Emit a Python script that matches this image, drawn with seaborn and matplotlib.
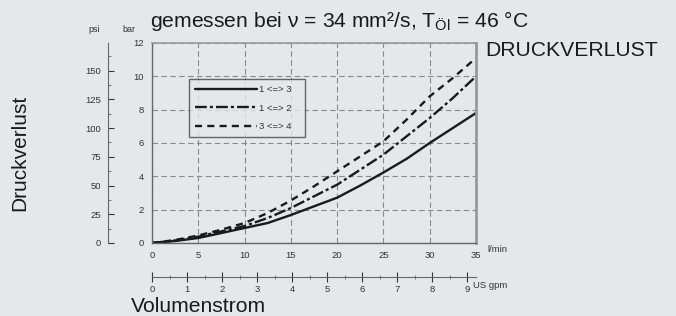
import matplotlib
matplotlib.use("Agg")
import matplotlib.pyplot as plt
import numpy as np
import pandas as pd
import seaborn as sns

# flow in l/min
flow = [0, 2.5, 5, 7.5, 10, 12.5, 15, 17.5, 20, 22.5, 25, 27.5, 30, 32.5, 35]
# pressure loss in bar
loss_1_3 = [0, 0.12, 0.3, 0.6, 0.9, 1.2, 1.68, 2.2, 2.72, 3.45, 4.23, 5.05, 6.0, 6.9, 7.8]
loss_1_2 = [0, 0.15, 0.38, 0.7, 1.02, 1.5, 2.1, 2.8, 3.5, 4.4, 5.3, 6.4, 7.5, 8.7, 10.0]
loss_3_4 = [0, 0.18, 0.45, 0.8, 1.2, 1.8, 2.55, 3.4, 4.3, 5.2, 6.1, 7.4, 8.8, 9.9, 11.1]
series_names = ["1 <=> 3", "1 <=> 2", "3 <=> 4"]

bar_ticks = [0, 2, 4, 6, 8, 10, 12]
lmin_ticks = [0, 5, 10, 15, 20, 25, 30, 35]
psi_ticks = [0, 25, 50, 75, 100, 125, 150]
gpm_ticks = [0, 1, 2, 3, 4, 5, 6, 7, 8, 9]

PSI_PER_BAR = 14.5038
LMIN_PER_GPM = 3.78541

df = pd.DataFrame({
    "flow": flow * 3,
    "loss": loss_1_3 + loss_1_2 + loss_3_4,
    "series": [n for n in series_names for _ in flow],
})

sns.set_style("white")
plt.rcParams["font.family"] = ["Liberation Sans", "DejaVu Sans"]
plt.rcParams["mathtext.fontset"] = "custom"
plt.rcParams["mathtext.rm"] = "Liberation Sans"
plt.rcParams["mathtext.it"] = "Liberation Sans"

bg = "#e6e7e8"
fig = plt.figure(figsize=(6.76, 3.16), dpi=100, facecolor=bg)
W, H = 676, 316
ax = fig.add_axes([152 / W, (H - 243) / H, 324 / W, 200 / H])
ax.set_facecolor(bg)

sns.lineplot(
    data=df, x="flow", y="loss", style="series", ax=ax,
    color="#1a1a1a", linewidth=1.7,
    dashes={"1 <=> 3": "", "1 <=> 2": (5, 1.3, 1.3, 1.3), "3 <=> 4": (3, 2.2)},
    style_order=series_names,
)

ax.set_xlim(0, 35)
ax.set_ylim(0, 12)
ax.set_xticks(lmin_ticks)
ax.set_xticks(np.arange(2.5, 35, 5), minor=True)
ax.set_yticks(bar_ticks)
ax.grid(True, which="major", color="#8a8a8a", linestyle=(0, (5, 3)), linewidth=0.8)
ax.tick_params(axis="both", which="major", length=0, labelsize=6.8, colors="#333333", pad=6)
ax.tick_params(axis="x", which="minor", direction="in", length=3, color="#666666")
ax.set_xlabel("")
ax.set_ylabel("")
for side in ["left", "bottom"]:
    ax.spines[side].set_color("#666666")
    ax.spines[side].set_linewidth(1.0)
for side in ["top", "right"]:
    ax.spines[side].set_color("#999999")
    ax.spines[side].set_linewidth(1.2)
ax.spines["right"].set_linewidth(2.0)

leg = ax.legend(
    loc="upper left", bbox_to_anchor=(0.114, 0.818), frameon=True, fancybox=False,
    fontsize=6.8, handlelength=6.6, handletextpad=0.2, labelspacing=1.0,
    borderpad=0.6, borderaxespad=0, title=None,
)
leg.get_frame().set_edgecolor("#444444")
leg.get_frame().set_facecolor(bg)
leg.get_frame().set_linewidth(1.0)
for t in leg.get_texts():
    t.set_color("#333333")
    t.set_text(t.get_text() + "   ")

# psi axis on the left
psi = ax.secondary_yaxis(-44 / 324, functions=(lambda b: b * PSI_PER_BAR, lambda p: p / PSI_PER_BAR))
psi.set_yticks(psi_ticks)
psi.set_yticks(np.arange(12.5, 175, 25), minor=True)
psi.tick_params(which="major", direction="in", length=4, labelsize=6.8, colors="#333333", pad=5)
psi.tick_params(which="minor", direction="in", length=2, color="#666666")
psi.spines["left"].set_color("#666666")
psi.spines["left"].set_linewidth(0.8)

# US gpm axis below
gpm = ax.secondary_xaxis(-34 / 200, functions=(lambda l: l / LMIN_PER_GPM, lambda g: g * LMIN_PER_GPM))
gpm.set_xticks(gpm_ticks)
gpm.set_xticks(np.arange(0.5, 9.2, 1), minor=True)
gpm.tick_params(which="major", direction="inout", length=7, labelsize=6.8, colors="#333333", pad=2)
gpm.tick_params(which="minor", direction="inout", length=3, color="#666666")
gpm.spines["bottom"].set_color("#666666")
gpm.spines["bottom"].set_linewidth(0.8)

fig.text(94 / W, 1 - 29 / H, "psi", fontsize=6.5, color="#333333", ha="center", va="center")
fig.text(129 / W, 1 - 29 / H, "bar", fontsize=6.5, color="#333333", ha="center", va="center")
fig.text(487 / W, 1 - 250 / H, "l/min", fontsize=6.8, color="#333333", ha="left", va="center")
fig.text(473 / W, 1 - 286 / H, "US gpm", fontsize=6.8, color="#333333", ha="left", va="center")

fig.text(150 / W, 1 - 27 / H, "gemessen bei ν = 34 mm²/s, T$_{\\mathrm{Öl}}$ = 46 °C",
         fontsize=15.2, color="#1a1a1a", ha="left", va="baseline")
fig.text(485 / W, 1 - 56 / H, "DRUCKVERLUST", fontsize=15.2, color="#1a1a1a",
         ha="left", va="baseline")
fig.text(131 / W, 1 - 312 / H, "Volumenstrom", fontsize=15.2, color="#1a1a1a",
         ha="left", va="baseline")
fig.text(20 / W, 1 - 153 / H, "Druckverlust", fontsize=15, color="#1a1a1a",
         rotation=90, ha="center", va="center")

fig.savefig("out.png", dpi=100, facecolor=bg)
